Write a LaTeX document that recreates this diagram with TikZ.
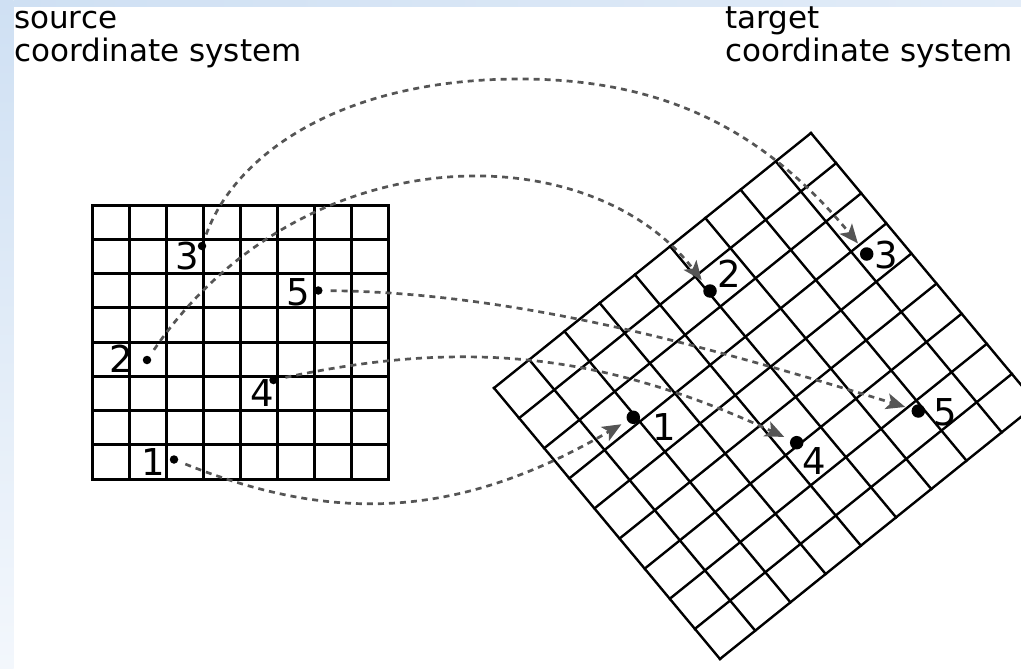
\documentclass[tikz,border=0pt]{standalone}
\usepackage{fontspec}
\setmainfont{DejaVu Sans}
\usetikzlibrary{arrows.meta}
\definecolor{dashgray}{RGB}{85,85,85}
\definecolor{bgblue}{RGB}{207,224,243}
\definecolor{bgpale}{RGB}{243,247,252}
\definecolor{bgtopright}{RGB}{226,236,248}
\begin{document}
\begin{tikzpicture}[x=1pt,y=-1pt,
  srcgrid/.style={line width=3pt, black, line cap=rect},
  tgtgrid/.style={line width=2.4pt, black, line cap=rect},
  sdot/.style={circle, fill=black, inner sep=0pt, minimum size=8.5pt, outer sep=8pt},
  tdot/.style={circle, fill=black, inner sep=0pt, minimum size=13.5pt, outer sep=7pt},
  title/.style={font=\fontsize{31}{31}\selectfont, inner sep=0pt, anchor=base west},
  num/.style={font=\fontsize{37}{37}\selectfont, inner sep=0pt},
  map/.style={dashgray, line width=2.7pt, dash pattern=on 6pt off 5pt,
    -{Stealth[length=19pt,width=16pt,inset=4.5pt]}}
]
\useasboundingbox (0,0) rectangle (1021,669);
\clip (0,0) rectangle (1021,669);
\fill[white] (0,0) rectangle (1021,669);
\shade[top color=bgblue, bottom color=bgpale] (0,0) rectangle (13.5,669);
\shade[left color=bgblue, right color=bgtopright] (13.5,0) rectangle (1021,7);

% source grid 8x8
\begin{scope}[shift={(92.5pt,-205pt)}, x=36.94pt, y=-34.25pt]
  \foreach \i in {0,...,8} {
    \draw[srcgrid] (\i,0) -- (\i,8);
    \draw[srcgrid] (0,\i) -- (8,\i);
  }
\end{scope}

% target grid 9x9, rotated
\begin{scope}[shift={(494pt,-388pt)}, x={(35.22pt,28.33pt)}, y={(25.11pt,-30.11pt)}]
  \foreach \i in {0,...,9} {
    \draw[tgtgrid] (\i,0) -- (\i,9);
    \draw[tgtgrid] (0,\i) -- (9,\i);
  }
\end{scope}

% titles
\node[title] (src1) at (14,28.3) {source};
\node[title] (src2) at (14,61.7) {coordinate system};
\node[title] (tgt1) at (725,28.3) {target};
\node[title] (tgt2) at (725,61.7) {coordinate system};

% points
\node[sdot] (s1) at (174,459.5) {};
\node[sdot] (s2) at (147,360) {};
\node[sdot] (s3) at (202,246) {};
\node[sdot] (s4) at (273.5,380) {};
\node[sdot] (s5) at (318.3,290.5) {};
\node[tdot] (t1) at (633.3,417.3) {};
\node[tdot] (t2) at (710,291) {};
\node[tdot] (t3) at (866.7,254) {};
\node[tdot] (t4) at (796.7,442.7) {};
\node[tdot] (t5) at (918.3,411) {};
\coordinate (m3) at (520,79);

% labels
\node[num] (ls1) at (153.3,462.5) {1};
\node[num] (ls2) at (121,359) {2};
\node[num] (ls3) at (187.5,256.5) {3};
\node[num] (ls4) at (262.5,393.3) {4};
\node[num] (ls5) at (298,292.5) {5};
\node[num] (lt1) at (664,427.3) {1};
\node[num] (lt2) at (729,273.5) {2};
\node[num] (lt3) at (886,255) {3};
\node[num] (lt4) at (814,460.7) {4};
\node[num] (lt5) at (945,412.5) {5};

% mapping connectors
\draw[map] (s1) .. controls (332.1,522.9) and (458,520) .. (t1);
\draw[map] (s2) .. controls (301.8,134) and (589,133.5) .. (t2);
\draw[map] (s3) .. controls (235,155) and (340,79) .. (m3)
                .. controls (670,79) and (768.4,135.2) .. (t3);
\draw[map] (s4) .. controls (469.6,338) and (606.3,354.7) .. (t4);
\draw[map] (s5) .. controls (518,293) and (707,346) .. (t5);
\end{tikzpicture}
\end{document}
